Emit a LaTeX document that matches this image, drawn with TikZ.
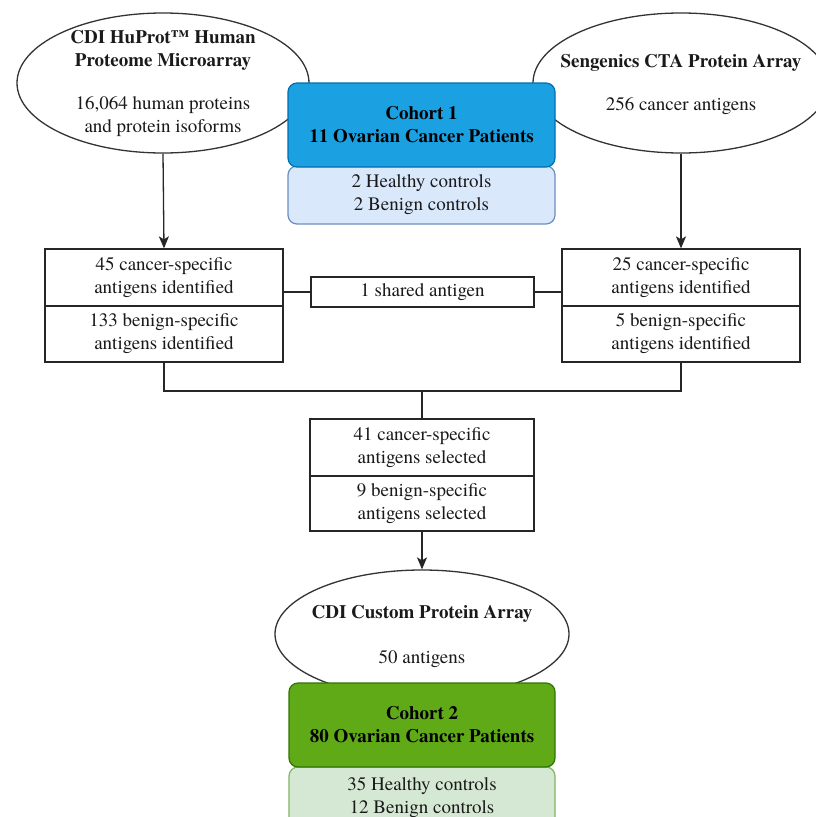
\documentclass[tikz,border=0pt]{standalone}
\usepackage{fontspec}
\setmainfont{texgyretermes}[Extension=.otf, UprightFont=*-regular, BoldFont=*-bold, ItalicFont=*-italic, BoldItalicFont=*-bolditalic]
\usetikzlibrary{shapes.geometric,arrows.meta}
\definecolor{cblue}{HTML}{1BA1E2}
\definecolor{cblueline}{HTML}{006EAF}
\definecolor{lblue}{HTML}{DAE8FC}
\definecolor{lblueline}{HTML}{6C8EBF}
\definecolor{cgreen}{HTML}{60A917}
\definecolor{cgreenline}{HTML}{2D7600}
\definecolor{lgreen}{HTML}{D5E8D4}
\definecolor{lgreenline}{HTML}{82B366}
\definecolor{txt}{HTML}{1A1A1A}
\begin{document}
\begin{tikzpicture}[x=1pt,y=-1pt,
  every node/.style={font=\fontsize{19}{23}\selectfont, text=txt, align=center},
  ell/.style={ellipse, draw=black!80, line width=1.3pt, fill=white, inner sep=0pt},
  box/.style={rectangle, draw=black!85, line width=1.3pt, fill=white, inner sep=0pt},
  cohort/.style={rectangle, rounded corners=9pt, line width=1.2pt, inner sep=0pt, font=\fontsize{19}{23}\selectfont\bfseries, text=black},
  sub/.style={rectangle, rounded corners=9pt, line width=1.2pt, inner sep=0pt},
  conn/.style={draw=black!85, line width=1.3pt},
  arr/.style={conn, -{Stealth[length=12pt,width=10pt,inset=3pt]}}
]
\useasboundingbox (0,0) rectangle (816,817);
\clip (0,0) rectangle (816,817);
\fill[white] (0,0) rectangle (816,817);

% top ellipses
\node[ell, minimum width=292pt, minimum height=140pt] (e1) at (163,83) {};
\node (e1t) at (163,83) {\textbf{CDI HuProt™ Human}\\\textbf{Proteome Microarray}\\[20pt]16,064 human proteins\\and protein isoforms};
\node[ell, minimum width=296pt, minimum height=140pt] (e2) at (681,83) {};
\node (e2t) at (681,84) {\textbf{Sengenics CTA Protein Array}\\[20pt]256 cancer antigens};

% cohort 1
\node[sub, fill=lblue, draw=lblueline, minimum width=267pt, minimum height=58pt] (c1s) at (421.5,195) {2 Healthy controls\\2 Benign controls};
\node[cohort, fill=cblue, draw=cblueline, minimum width=267pt, minimum height=84pt] (c1) at (421.5,125) {Cohort 1\\11 Ovarian Cancer Patients};

% second row
\node[box, minimum width=238pt, minimum height=57pt] (lc) at (164,277.5) {45 cancer-specific\\antigens identified};
\node[box, minimum width=238pt, minimum height=56pt] (lb) at (164,334) {133 benign-specific\\antigens identified};
\node[box, minimum width=238pt, minimum height=57pt] (rc) at (681,277.5) {25 cancer-specific\\antigens identified};
\node[box, minimum width=238pt, minimum height=56pt] (rb) at (681,334) {5 benign-specific\\antigens identified};
\node[box, minimum width=223pt, minimum height=30pt] (sh) at (422.5,292) {1 shared antigen};

% middle
\node[box, minimum width=224pt, minimum height=57pt] (mc) at (422,447.5) {41 cancer-specific\\antigens selected};
\node[box, minimum width=224pt, minimum height=55pt] (mb) at (422,503.5) {9 benign-specific\\antigens selected};

% bottom ellipse
\node[ell, minimum width=294pt, minimum height=128pt] (e3) at (422,634) {};
\node (e3t) at (422,636) {\textbf{CDI Custom Protein Array}\\[22pt]50 antigens};

% cohort 2
\node[sub, fill=lgreen, draw=lgreenline, minimum width=266pt, minimum height=70pt] (c2s) at (422,802) {};
\node (c2st) at (422,798) {35 Healthy controls\\12 Benign controls};
\node[cohort, fill=cgreen, draw=cgreenline, minimum width=266pt, minimum height=84pt] (c2) at (422,725) {Cohort 2\\80 Ovarian Cancer Patients};

% connectors
\draw[arr] (e1.south) -- (lc.north);
\draw[arr] (e2.south) -- (rc.north);
\draw[conn] (sh.west) -- (sh.west -| lc.east);
\draw[conn] (sh.east) -- (sh.east -| rc.west);
\coordinate (j) at (422,391);
\draw[conn] (lb.south) |- (j) -| (rb.south);
\draw[conn] (j) -- (mc.north);
\draw[arr] (mb.south) -- (e3.north);
\end{tikzpicture}
\end{document}
